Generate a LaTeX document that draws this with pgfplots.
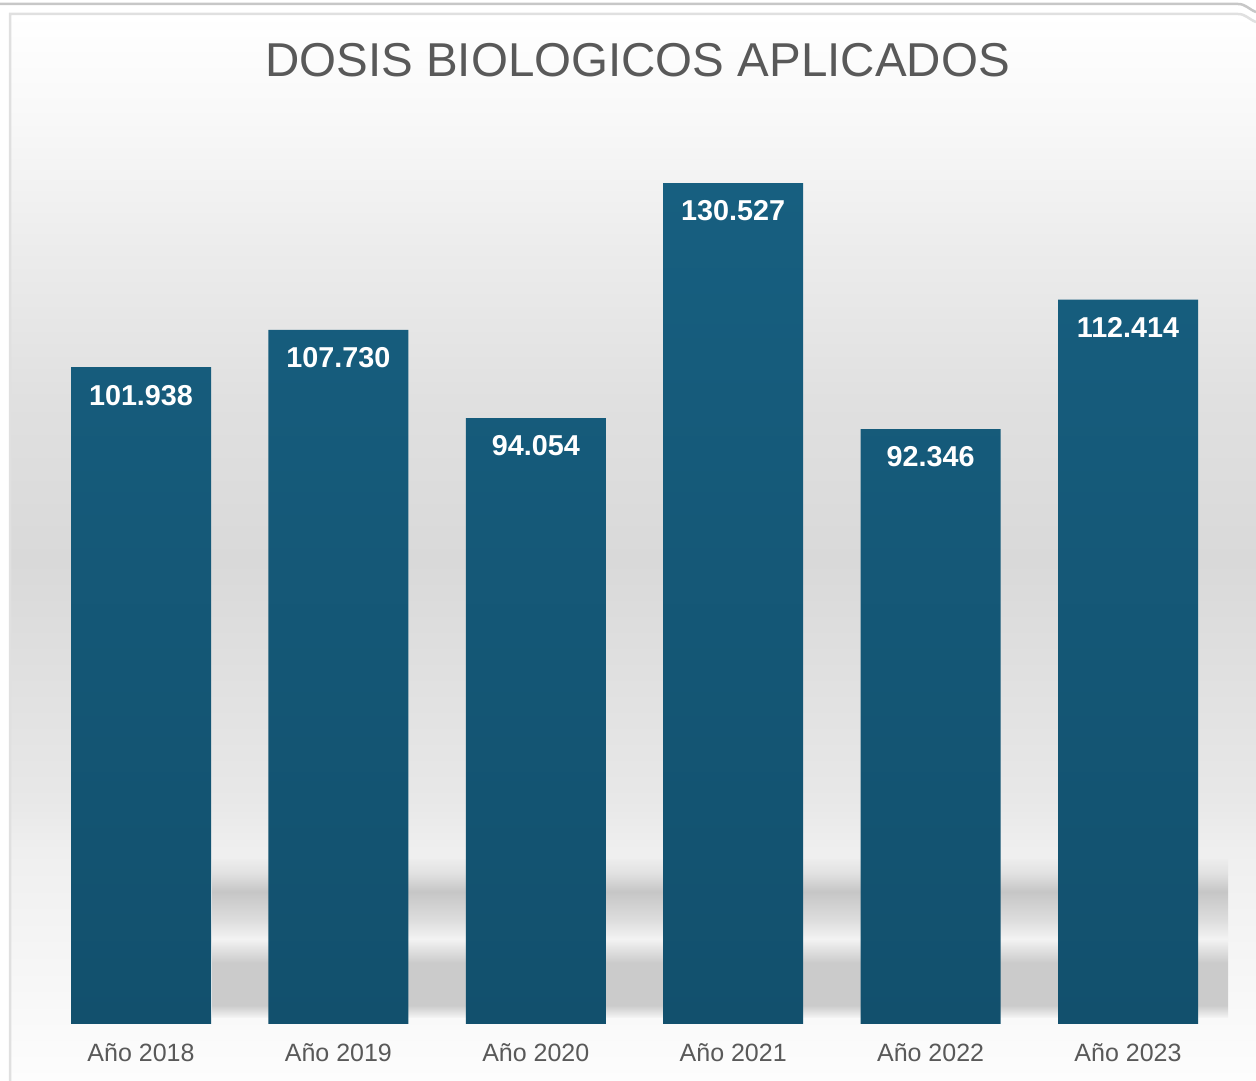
\documentclass[border=0pt]{standalone}
\usepackage{pgfplots}
\pgfplotsset{compat=1.18}
\usepackage{pgfplotstable}
\usepackage{fontspec}
\setmainfont{Liberation Sans}
\definecolor{bartop}{HTML}{175F80}
\definecolor{barbot}{HTML}{12506D}
\definecolor{txtgray}{HTML}{595959}
\definecolor{bgA}{HTML}{FDFDFD}
\definecolor{bgB}{HTML}{F8F8F8}
\definecolor{bgC}{HTML}{EFEFEF}
\definecolor{bgD}{HTML}{E8E8E8}
\definecolor{bgE}{HTML}{D9D9D9}
\definecolor{bgF}{HTML}{E0E0E0}
\definecolor{bgG}{HTML}{ECECEC}
\definecolor{shA}{HTML}{F6F6F6}
\definecolor{shB}{HTML}{CBCBCB}
\definecolor{shC}{HTML}{F3F3F3}
\definecolor{shD}{HTML}{DDDDDD}
\definecolor{shE}{HTML}{C6C6C6}
\definecolor{shF}{HTML}{E2E2E2}
\definecolor{shG}{HTML}{ECECEC}
% path box maps to 25bp..75bp of the declared shading
\pgfdeclareverticalshading{bgshade}{100bp}{color(0bp)=(bgA); color(25bp)=(bgA); color(28.8bp)=(bgB); color(35.8bp)=(bgC); color(38.15bp)=(bgD); color(49.4bp)=(bgE); color(56.9bp)=(bgF); color(63.95bp)=(bgG); color(70bp)=(bgB); color(75bp)=(white); color(100bp)=(white)}
\pgfdeclareverticalshading{shadowband}{100bp}{color(0bp)=(shA); color(25bp)=(shA); color(29bp)=(shB); color(42.5bp)=(shB); color(50bp)=(shC); color(56bp)=(shD); color(65bp)=(shE); color(71bp)=(shF); color(75bp)=(shG); color(100bp)=(shG)}
\begin{document}
\begin{tikzpicture}
\useasboundingbox (0,0) rectangle (502.4pt,432.4pt);
% background frame
\shade[shading=bgshade] (4pt,0pt) rectangle (502.4pt,{(1081-14)*0.4pt});
\draw[color=black!12, line width=1pt] (4pt,0pt) -- (4pt,{(1081-14)*0.4pt}) -- ({1238*0.4pt},{(1081-14)*0.4pt}) to[out=0,in=160] (502.4pt,{(1081-22)*0.4pt});
\draw[color=black!22, line width=1pt] (0pt,{(1081-4)*0.4pt}) -- ({1238*0.4pt},{(1081-4)*0.4pt}) to[out=0,in=160] (502.4pt,{(1081-12)*0.4pt});
% reflection band
\shade[shading=shadowband] ({212*0.4pt},{(1081-1018)*0.4pt}) rectangle ({1228*0.4pt},{(1081-860)*0.4pt});
\begin{axis}[
  at={(16.92pt,22.8pt)}, anchor=south west,
  scale only axis, width=473.76pt, height=360.8pt,
  xmin=-0.5, xmax=5.5, ymin=0, ymax=140000,
  axis line style={draw=none}, tick style={draw=none},
  ytick=\empty,
  xtick=data,
  xticklabels={Año 2018, Año 2019, Año 2020, Año 2021, Año 2022, Año 2023},
  xticklabel style={font=\fontsize{10}{12}\selectfont, text=txtgray},
  ybar, bar width=56pt,
  clip=false,
]
\addplot[draw=none, top color=bartop, bottom color=barbot,
  nodes near coords, point meta=explicit symbolic,
  every node near coord/.style={anchor=center, yshift=-11.2pt, text=white, font=\fontsize{11.5}{13}\selectfont\bfseries}]
  table[x=x, y=y, meta index=2] {
x y label
0 101938 101.938
1 107730 107.730
2 94054 94.054
3 130527 130.527
4 92346 92.346
5 112414 112.414
};
\end{axis}
\node[inner sep=0pt, text=txtgray, font=\fontsize{19}{19}\selectfont] at ({637.5*0.4pt},{(1081-60)*0.4pt}) {DOSIS BIOLOGICOS APLICADOS};
\end{tikzpicture}
\end{document}
